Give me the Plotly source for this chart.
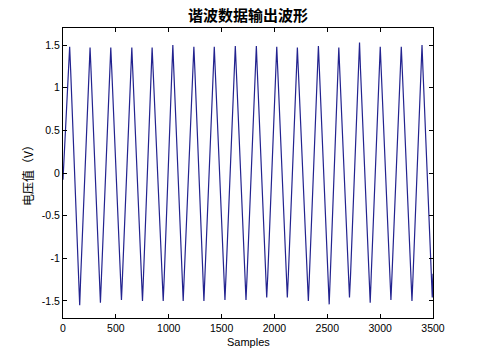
import plotly.graph_objects as go

# Waveform vertices (sample index, voltage)
sample_x = [
    0,
    51, 56, 63, 72, 146, 151, 158, 168,
    244, 249, 256, 265, 342, 347, 354, 364,
    440, 445, 452, 461, 541, 546, 553, 563,
    639, 644, 651, 660, 740, 745, 752, 762,
    831, 836, 843, 852, 936, 941, 948, 958,
    1027, 1032, 1039, 1048, 1125, 1130, 1137, 1147,
    1226, 1231, 1238, 1247, 1321, 1326, 1333, 1343,
    1419, 1424, 1431, 1440, 1520, 1525, 1532, 1542,
    1618, 1623, 1630, 1639, 1719, 1724, 1731, 1741,
    1817, 1822, 1829, 1838, 1915, 1920, 1927, 1937,
    2010, 2015, 2022, 2031, 2110, 2115, 2122, 2132,
    2205, 2210, 2217, 2226, 2309, 2314, 2321, 2331,
    2404, 2409, 2416, 2425, 2506, 2511, 2518, 2528,
    2597, 2602, 2609, 2618, 2698, 2703, 2710, 2720,
    2793, 2798, 2805, 2814, 2894, 2899, 2906, 2916,
    2989, 2994, 3001, 3010, 3090, 3095, 3102, 3112,
    3188, 3193, 3200, 3209, 3289, 3294, 3301, 3311,
    3384, 3389, 3396, 3405, 3481, 3486, 3493, 3500,
]
voltage_y = [
    -0.08,
    1.18, 1.24, 1.48, 1.22, -1.18, -1.25, -1.55, -1.20,
    1.17, 1.25, 1.47, 1.21, -1.19, -1.24, -1.52, -1.21,
    1.18, 1.23, 1.47, 1.22, -1.17, -1.25, -1.49, -1.20,
    1.19, 1.24, 1.47, 1.20, -1.18, -1.26, -1.50, -1.19,
    1.18, 1.25, 1.47, 1.22, -1.18, -1.24, -1.50, -1.21,
    1.17, 1.24, 1.50, 1.21, -1.19, -1.25, -1.50, -1.20,
    1.18, 1.23, 1.48, 1.22, -1.18, -1.25, -1.50, -1.19,
    1.19, 1.24, 1.48, 1.21, -1.17, -1.24, -1.49, -1.20,
    1.18, 1.25, 1.49, 1.22, -1.18, -1.25, -1.49, -1.21,
    1.17, 1.24, 1.49, 1.20, -1.19, -1.26, -1.46, -1.20,
    1.18, 1.23, 1.48, 1.22, -1.18, -1.24, -1.46, -1.19,
    1.19, 1.24, 1.47, 1.21, -1.17, -1.25, -1.50, -1.20,
    1.18, 1.25, 1.49, 1.22, -1.18, -1.25, -1.54, -1.21,
    1.17, 1.24, 1.47, 1.20, -1.19, -1.24, -1.46, -1.20,
    1.18, 1.26, 1.53, 1.22, -1.18, -1.25, -1.52, -1.19,
    1.19, 1.24, 1.48, 1.21, -1.17, -1.26, -1.49, -1.20,
    1.18, 1.23, 1.48, 1.22, -1.18, -1.25, -1.50, -1.21,
    1.17, 1.25, 1.50, 1.21, -1.19, -1.24, -1.46, -1.18,
]

x_ticks = [0, 500, 1000, 1500, 2000, 2500, 3000, 3500]
y_ticks = [-1.5, -1, -0.5, 0, 0.5, 1, 1.5]
y_tick_labels = ["-1.5", "-1", "-0.5", "0", "0.5", "1", "1.5"]

title_text = "谐波数据输出波形"
x_label = "Samples"
y_label = "电压值（V）"

fig = go.Figure()
fig.add_trace(go.Scatter(
    x=sample_x, y=voltage_y, mode="lines",
    line=dict(color="#23238f", width=1.2),
    showlegend=False, hoverinfo="skip",
))

tick_font = dict(family="Liberation Sans, Arial, sans-serif", size=10.5, color="#000000")
axis_common = dict(
    showline=True, linecolor="#000000", linewidth=1, mirror="ticks",
    ticks="inside", ticklen=4, tickcolor="#000000", tickwidth=1,
    showgrid=False, zeroline=False, tickfont=tick_font,
)

fig.update_layout(
    width=480, height=360,
    margin=dict(l=63, r=47, t=28, b=42, autoexpand=False),
    paper_bgcolor="#ffffff", plot_bgcolor="#ffffff",
    xaxis=dict(range=[0, 3500], tickvals=x_ticks, ticktext=[str(v) for v in x_ticks], **axis_common),
    yaxis=dict(range=[-1.7, 1.7], tickvals=y_ticks, ticktext=y_tick_labels, **axis_common),
    annotations=[
        dict(text="<b>" + title_text + "</b>", xref="paper", yref="paper", x=0.5, y=1,
             yanchor="middle", xanchor="center", yshift=14, showarrow=False,
             font=dict(family="Noto Sans CJK SC", size=15, color="#000000")),
        dict(text=x_label, xref="paper", yref="paper", x=0.5, y=0,
             yanchor="middle", xanchor="center", yshift=-24, showarrow=False,
             font=dict(family="Liberation Sans, Arial, sans-serif", size=11, color="#000000")),
        dict(text=y_label, xref="paper", yref="paper", x=0, y=0.5, textangle=-90,
             yanchor="middle", xanchor="center", xshift=-36, showarrow=False,
             font=dict(family="Noto Sans CJK SC", size=12, color="#000000")),
    ],
)

fig.write_html("out.html")
